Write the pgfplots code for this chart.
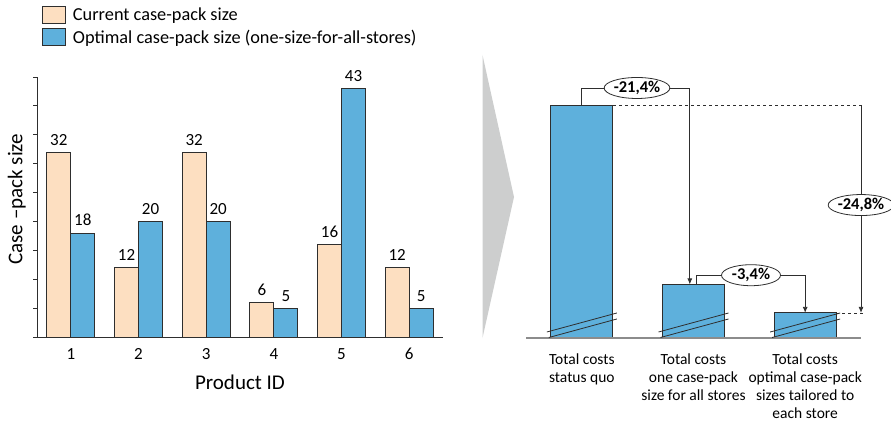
\documentclass[border=0pt]{standalone}
\usepackage{pgfplots}
\pgfplotsset{compat=1.18}
\usepackage{fontspec}
\setmainfont{Carlito}
\usetikzlibrary{shapes.geometric,arrows.meta}

\definecolor{peach}{HTML}{FDDFC1}
\definecolor{skyblue}{HTML}{5EB0DC}
\definecolor{edge}{HTML}{2E2E2E}
\definecolor{chevron}{HTML}{CDCECE}
\definecolor{basegray}{HTML}{8C8C8C}

\pgfplotsset{/pgf/number format/assume math mode=true}

\begin{document}
\begin{tikzpicture}
\path[use as bounding box] (0pt,0pt) rectangle (891pt,-422pt);

% ---------------- case-pack sizes per product ----------------
\begin{axis}[
  at={(37pt,-337pt)}, anchor=south west,
  scale only axis, width=406pt, height=260pt,
  xmin=0.5, xmax=6.5, ymin=0, ymax=45,
  ybar=0pt, bar width=24pt,
  axis x line*=bottom, axis y line*=left,
  axis line style={-, line width=1pt, edge},
  x axis line style={shorten <=-4pt},
  xtick={1,...,6},
  ytick={0,5,...,45}, yticklabels={},
  tick align=outside, major tick length=4pt,
  tick style={edge, line width=0.8pt},
  xtick style={draw=none},
  xticklabel style={font=\fontsize{17}{20}\selectfont, inner sep=0pt, yshift=-7pt},
  xlabel={Product ID},
  ylabel={Case –pack size},
  xlabel style={font=\fontsize{21}{24}\selectfont, at={(axis description cs:0.5,-0.173)}, anchor=center},
  ylabel style={font=\fontsize{21}{24}\selectfont, at={(axis description cs:-0.05,0.53)}, anchor=center},
  nodes near coords,
  nodes near coords style={font=\fontsize{17}{20}\selectfont, inner sep=0pt, anchor=south, yshift=6.5pt, text=black},
  legend style={at={(0.0123,1.273)}, anchor=north west, draw=none, fill=none,
    font=\fontsize{18.3}{22}\selectfont, row sep=3.5pt, inner sep=0pt,
    column sep=5pt},
  legend cell align=left,
  legend image code/.code={\draw[#1, line width=0.8pt] (0pt,-8.5pt) rectangle (23pt,8.5pt);},
]
\addplot[fill=peach, draw=edge, line width=0.8pt] coordinates {(1,32) (2,12) (3,32) (4,6) (5,16) (6,12)};
\addplot[fill=skyblue, draw=edge, line width=0.8pt] coordinates {(1,18) (2,20) (3,20) (4,5) (5,43) (6,5)};
\legend{Current case-pack size, Optimal case-pack size (one-size-for-all-stores)}
\end{axis}

% ---------------- separator chevron ----------------
\fill[chevron] (482.5pt,-55pt) -- (514pt,-197pt) -- (482.5pt,-338pt) -- cycle;

% ---------------- total cost comparison ----------------
\begin{axis}[
  at={(526pt,-338pt)}, anchor=south west,
  scale only axis, width=335pt, height=283pt,
  xmin=0.5, xmax=3.5, ymin=72.2, ymax=106,
  hide axis, clip mode=individual,
  ybar=0pt, bar width=62pt,
]
\addplot[fill=skyblue, draw=edge, line width=0.9pt] coordinates {(1,100) (2,78.6) (3,75.2)};

% baseline
\draw[basegray, line width=2pt] (axis cs:0.5,72.2) -- (axis cs:3.5,72.2);

% axis-break marks on each bar
\pgfplotsinvokeforeach{1,2,3}{
  \draw[edge, line width=0.8pt] ([shift={(-35pt,6pt)}]axis cs:#1,72.2) -- ([shift={(35pt,25pt)}]axis cs:#1,72.2);
  \draw[edge, line width=0.8pt] ([shift={(-33pt,0.5pt)}]axis cs:#1,72.2) -- ([shift={(35pt,19pt)}]axis cs:#1,72.2);
}

% reference lines
\draw[edge, line width=0.7pt, dashed] (axis cs:1.28,100) -- (axis cs:3.52,100);
\draw[edge, line width=0.7pt, dashed] (axis cs:3.28,75.2) -- (axis cs:3.52,75.2);

% status quo -> one size for all stores
\draw[edge, line width=0.8pt, -{Latex[length=6pt,width=5pt]}]
  (axis cs:1,100) -- (axis cs:1,102.06) -- (axis cs:1.967,102.06) -- (axis cs:1.967,78.6);
% one size -> tailored sizes
\draw[edge, line width=0.8pt, -{Latex[length=6pt,width=5pt]}]
  (axis cs:2.03,78.6) -- (axis cs:2.03,79.7) -- (axis cs:3.0,79.7) -- (axis cs:3.0,75.2);
% status quo -> tailored sizes
\draw[edge, line width=0.8pt, -{Latex[length=6pt,width=5pt]}]
  (axis cs:3.5,100) -- (axis cs:3.5,75.2);

\tikzset{pct/.style={ellipse, draw=edge, line width=0.8pt, fill=white, inner sep=0pt,
  minimum width=59pt, minimum height=21pt, font=\bfseries\fontsize{16.5}{19}\selectfont}}
\node[pct] at (axis cs:1.494,102.06) {-21,4\%};
\node[pct] at (axis cs:2.515,79.7) {-3,4\%};
\node[pct] at (axis cs:3.5,88.08) {-24,8\%};

% category labels
\tikzset{cat/.style={anchor=north, align=center, inner sep=0pt, yshift=-16pt,
  font=\fontsize{15.5}{18}\selectfont}}
\node[cat] at (axis cs:1,72.2) {Total costs\\status quo};
\node[cat] at (axis cs:2,72.2) {Total costs\\one case-pack\\size for all stores};
\node[cat] at (axis cs:3,72.2) {Total costs\\optimal case-pack\\sizes tailored to\\each store};
\end{axis}
\end{tikzpicture}
\end{document}
